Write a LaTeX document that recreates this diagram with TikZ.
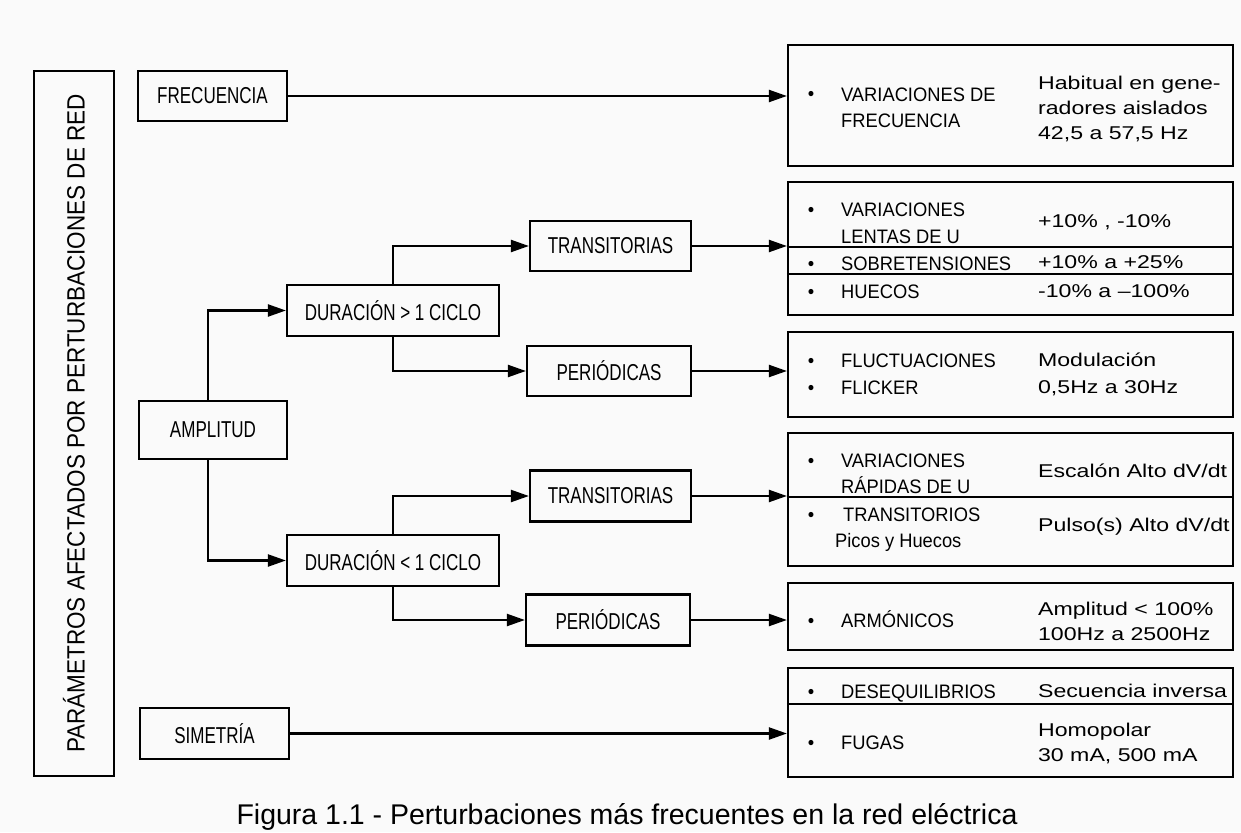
\documentclass[tikz,border=0pt]{standalone}
\usepackage{fontspec}
\setmainfont{Liberation Sans}
\newfontfamily\techfont[FakeStretch=0.74]{Liberation Sans}
\newfontfamily\itemfont[FakeStretch=0.94]{Liberation Sans}
\newfontfamily\valfont[FakeStretch=1.25]{Liberation Sans}
\newfontfamily\titlefont[FakeStretch=0.9]{Liberation Sans}
\usepackage{tikz}
\usetikzlibrary{arrows.meta}
\tikzset{>={Triangle[length=18pt,width=12pt]}}

\begin{document}
\begin{tikzpicture}[x=1pt, y=-1pt, line width=2.2pt,
  caja/.style={draw, rectangle, inner sep=0pt, font=\techfont\fontsize{23}{27}\selectfont},
  panel/.style={draw, rectangle, inner sep=0pt, minimum width=445pt},
  item/.style={inner sep=0pt, align=left, font=\itemfont\fontsize{19.5}{26}\selectfont},
  valor/.style={inner sep=0pt, align=left, font=\valfont\fontsize{18.5}{25}\selectfont},
  punto/.style={anchor=base, inner sep=0pt, font=\itemfont\fontsize{19.5}{26}\selectfont}]

% Frame
\useasboundingbox (0,0) rectangle (1241,832);
\fill[black!2] (0,0) rectangle (1241,832);

% Title
\node[draw, rotate=90, inner sep=0pt, minimum width=705pt, minimum height=80pt,
  font=\titlefont\fontsize{25}{30}\selectfont] (titulo) at (74,423.5)
  {PARÁMETROS AFECTADOS POR PERTURBACIONES DE RED};

% Parameters
\node[caja, minimum width=149pt, minimum height=50pt] (frec) at (212.5,96) {FRECUENCIA};
\node[caja, minimum width=148pt, minimum height=58pt] (ampl) at (213,430) {AMPLITUD};
\node[caja, minimum width=149pt, minimum height=51pt] (sime) at (214.5,733.5) {SIMETRÍA};

% Duration
\node[caja, minimum width=212pt, minimum height=51pt] (durmay) at (393,310.5) {DURACIÓN > 1 CICLO};
\node[caja, minimum width=212pt, minimum height=51pt] (durmen) at (393,560.5) {DURACIÓN < 1 CICLO};

% Kind
\node[caja, minimum width=161pt, minimum height=50pt] (tran1) at (610.5,246) {TRANSITORIAS};
\node[caja, minimum width=164pt, minimum height=50pt] (peri1) at (609,371) {PERIÓDICAS};
\node[caja, minimum width=161pt, minimum height=51pt] (tran2) at (610.5,496) {TRANSITORIAS};
\node[caja, minimum width=164pt, minimum height=51pt] (peri2) at (608,620) {PERIÓDICAS};

% Result panels
\node[panel, minimum height=121pt] (rfrec) at (1010.5,105.5) {};
\node[panel, minimum height=133pt] (rtran1) at (1010.5,248.5) {};
\node[panel, minimum height=85pt] (rperi1) at (1010.5,374.5) {};
\node[panel, minimum height=133pt] (rtran2) at (1010.5,499.5) {};
\node[panel, minimum height=67pt] (rperi2) at (1010.5,616.5) {};
\node[panel, minimum height=109pt] (rsime) at (1010.5,722.5) {};

% Dividers
\draw[line width=1.6pt] (rtran1.west |- 0,247) -- (rtran1.east |- 0,247);
\draw[line width=1.6pt] (rtran1.west |- 0,274) -- (rtran1.east |- 0,274);
\draw[line width=1.6pt] (rtran2.west |- 0,497) -- (rtran2.east |- 0,497);
\draw[line width=1.6pt] (rsime.west |- 0,704) -- (rsime.east |- 0,704);

% Connectors
\draw[->] (frec.east) -- (frec.east -| rfrec.west);
\draw[->] (sime.east) -- (sime.east -| rsime.west);
\draw[->] ([xshift=-5pt]ampl.north) |- (durmay.west);
\draw[->] ([xshift=-5pt]ampl.south) |- (durmen.west);
\draw[->] (durmay.north) |- (tran1.west);
\draw[->] (durmay.south) |- (peri1.west);
\draw[->] (durmen.north) |- (tran2.west);
\draw[->] (durmen.south) |- (peri2.west);
\draw[->] (tran1.east) -- (tran1.east -| rtran1.west);
\draw[->] (peri1.east) -- (peri1.east -| rperi1.west);
\draw[->] (tran2.east) -- (tran2.east -| rtran2.west);
\draw[->] (peri2.east) -- (peri2.east -| rperi2.west);

% Bullets
\node[punto] (p1) at (811,101) {\textbullet};
\node[punto] (p2) at (811,216) {\textbullet};
\node[punto] (p3) at (811,270) {\textbullet};
\node[punto] (p4) at (811,298) {\textbullet};
\node[punto] (p5) at (811,367) {\textbullet};
\node[punto] (p6) at (811,394) {\textbullet};
\node[punto] (p7) at (811,467) {\textbullet};
\node[punto] (p8) at (811,521) {\textbullet};
\node[punto] (p9) at (811,627) {\textbullet};
\node[punto] (p10) at (811,698) {\textbullet};
\node[punto] (p11) at (811,749) {\textbullet};

% Disturbances
\node[item, anchor=north west] (i1) at (840,87) {VARIACIONES DE\\FRECUENCIA};
\node[item, anchor=north west] (i2) at (840,202) {VARIACIONES\\[1pt]LENTAS DE U};
\node[item, anchor=base west] (i3) at (840,270) {SOBRETENSIONES};
\node[item, anchor=base west] (i4) at (840,298) {HUECOS};
\node[item, anchor=north west] (i5) at (840,353) {FLUCTUACIONES\\[1pt]FLICKER};
\node[item, anchor=north west] (i6) at (840,453) {VARIACIONES\\RÁPIDAS DE U};
\node[item, anchor=base west] (i7) at (842,521) {TRANSITORIOS};
\node[item, anchor=base west] (i8) at (834,547) {Picos y Huecos};
\node[item, anchor=base west] (i9) at (840,627) {ARMÓNICOS};
\node[item, anchor=base west] (i10) at (840,698) {DESEQUILIBRIOS};
\node[item, anchor=base west] (i11) at (840,749) {FUGAS};

% Values
\node[valor, anchor=north west] (v1) at (1037,74.5) {Habitual en gene-\\radores aislados\\42,5 a 57,5 Hz};
\node[valor, anchor=base west] (v2) at (1037,227) {+10\% , -10\%};
\node[valor, anchor=base west] (v3) at (1037,268) {+10\% a +25\%};
\node[valor, anchor=base west] (v4) at (1037,297) {-10\% a –100\%};
\node[valor, anchor=north west] (v5) at (1037,351.5) {Modulación\\[2pt]0,5Hz a 30Hz};
\node[valor, anchor=base west] (v6) at (1037,477) {Escalón Alto dV/dt};
\node[valor, anchor=base west] (v7) at (1037,531) {Pulso(s) Alto dV/dt};
\node[valor, anchor=north west] (v8) at (1037,600.5) {Amplitud < 100\%\\100Hz a 2500Hz};
\node[valor, anchor=base west] (v9) at (1037,697) {Secuencia inversa};
\node[valor, anchor=north west] (v10) at (1037,721.5) {Homopolar\\30 mA, 500 mA};

% Caption
\node[anchor=base, inner sep=0pt, font=\fontsize{28.5}{34}\selectfont] (pie) at (627,824)
  {Figura 1.1 - Perturbaciones más frecuentes en la red eléctrica};

\end{tikzpicture}
\end{document}
